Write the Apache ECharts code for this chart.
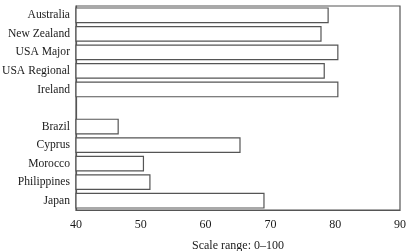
<!DOCTYPE html>
<html>
<head>
<meta charset="utf-8">
<script src="https://cdn.jsdelivr.net/npm/echarts@6/dist/echarts.min.js"></script>
<style>
  html, body { margin: 0; padding: 0; background: #fff; }
  #chart { width: 408px; height: 251px; }
</style>
</head>
<body>
<div id="chart"></div>
<script>
// categories top to bottom, '' is the blank spacer row
const countries = ['Australia', 'New Zealand', 'USA Major', 'USA Regional', 'Ireland', '',
  'Brazil', 'Cyprus', 'Morocco', 'Philippines', 'Japan'];
const scores = [79.0, 77.9, 80.5, 78.4, 80.5, '-', 46.6, 65.4, 50.5, 51.5, 69.1];
const xTicks = [40, 50, 60, 70, 80, 90];

const font = '"Liberation Serif", "DejaVu Serif", serif';
const chart = echarts.init(document.getElementById('chart'));
chart.setOption({
  animation: false,
  grid: {
    left: 76, right: 8, top: 6, bottom: 41,
    outerBoundsMode: 'none',
    containLabel: false,
    show: true,
    borderColor: '#555',
    borderWidth: 1.2,
    backgroundColor: 'transparent'
  },
  xAxis: {
    type: 'value',
    min: xTicks[0],
    max: xTicks[xTicks.length - 1],
    interval: 10,
    name: 'Scale range: 0\u2013100',
    nameLocation: 'center',
    nameGap: 30,
    nameTextStyle: { fontFamily: font, fontSize: 12, color: '#1a1a1a' },
    axisLine: { show: true, lineStyle: { color: '#555', width: 1.2 } },
    axisTick: { show: false },
    splitLine: { show: false },
    axisLabel: { fontFamily: font, fontSize: 12, color: '#1a1a1a', margin: 9 }
  },
  yAxis: {
    type: 'category',
    inverse: true,
    data: countries,
    axisLine: { show: true, lineStyle: { color: '#555', width: 1.2 } },
    axisTick: { show: false },
    axisLabel: { fontFamily: font, fontSize: 11.6, color: '#1a1a1a', margin: 6 }
  },
  series: [{
    type: 'bar',
    data: scores,
    barCategoryGap: '15%',
    itemStyle: { color: '#fff', borderColor: '#555', borderWidth: 1.2 }
  }]
});
</script>
</body>
</html>
